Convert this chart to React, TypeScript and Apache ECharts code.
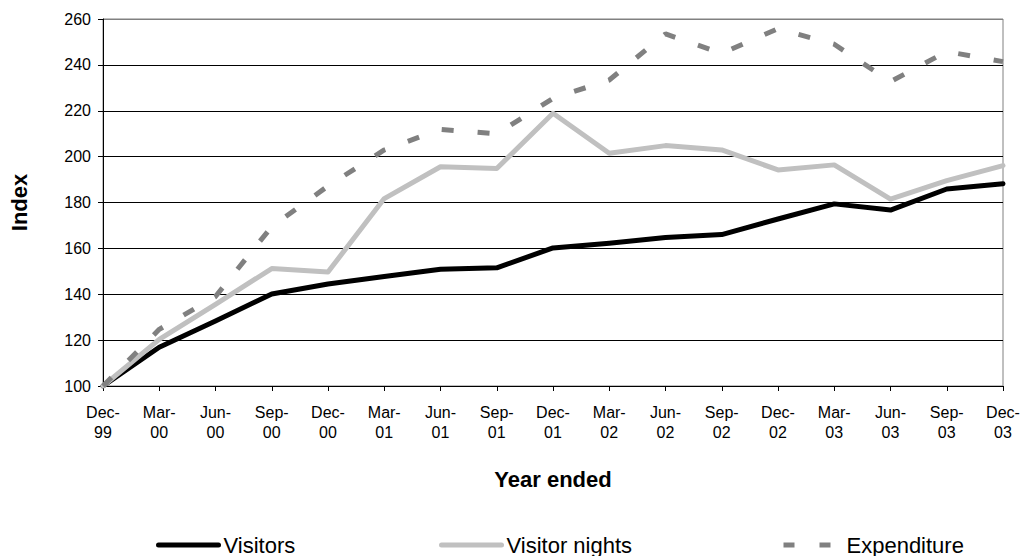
import React, { useEffect, useRef } from "react";
import * as echarts from "echarts";

const categories = [
  "Dec-\n99", "Mar-\n00", "Jun-\n00", "Sep-\n00", "Dec-\n00",
  "Mar-\n01", "Jun-\n01", "Sep-\n01", "Dec-\n01",
  "Mar-\n02", "Jun-\n02", "Sep-\n02", "Dec-\n02",
  "Mar-\n03", "Jun-\n03", "Sep-\n03", "Dec-\n03",
];

const visitors = [100, 116.9, 128.3, 140.1, 144.5, 147.7, 150.9, 151.5, 160.2, 162.2, 164.7, 166.0, 172.8, 179.4, 176.7, 185.9, 188.2];
const visitorNights = [100, 120.3, 135.6, 151.2, 149.7, 181.7, 195.6, 194.8, 218.9, 201.5, 204.8, 202.9, 194.2, 196.4, 181.5, 189.5, 196.1];
const expenditure = [100, 124.7, 139.0, 169.5, 187.2, 202.9, 211.9, 209.9, 225.4, 233.4, 253.5, 245.0, 255.8, 249.0, 232.7, 245.8, 241.4];

const FONT = "'Liberation Sans', Arial, sans-serif";

export default function App() {
  const ref = useRef<HTMLDivElement>(null);

  useEffect(() => {
    if (!ref.current) return;
    const chart = echarts.init(ref.current, undefined, { renderer: "svg" });
    const legendText = { fontFamily: FONT, fontSize: 22, color: "#000" };
    const hiddenSymbol = {
      color: "rgba(0,0,0,0)",
      borderColor: "rgba(0,0,0,0)",
      borderWidth: 0,
      opacity: 0,
    };
    chart.setOption({
      animation: false,
      backgroundColor: "#fff",
      textStyle: { fontFamily: FONT },
      grid: {
        left: 93,
        right: 23,
        top: 19,
        bottom: 170,
        show: true,
        borderColor: "#808080",
        borderWidth: 1,
      },
      legend: [
        {
          data: ["Visitors"],
          left: 151,
          top: 529,
          itemWidth: 60,
          itemHeight: 14,
          textStyle: legendText,
          itemStyle: hiddenSymbol,
          lineStyle: { width: 5, cap: "round", color: "#000" },
        },
        {
          data: ["Visitor nights"],
          left: 434,
          top: 529,
          itemWidth: 60,
          itemHeight: 14,
          textStyle: legendText,
          itemStyle: hiddenSymbol,
          lineStyle: { width: 5, cap: "round", color: "#C0C0C0" },
        },
        {
          data: ["Expenditure"],
          left: 776,
          top: 529,
          itemWidth: 58,
          itemHeight: 14,
          textStyle: legendText,
          itemStyle: hiddenSymbol,
          lineStyle: { width: 5, type: [11, 25], color: "#808080" },
        },
      ],
      xAxis: {
        type: "category",
        data: categories,
        boundaryGap: false,
        name: "Year ended",
        nameLocation: "middle",
        nameGap: 82,
        nameTextStyle: { fontFamily: FONT, fontSize: 22, fontWeight: "bold", color: "#000" },
        axisLine: { lineStyle: { color: "#000", width: 1 } },
        axisTick: { show: true, length: 5, inside: false, lineStyle: { color: "#000" } },
        axisLabel: {
          fontFamily: FONT,
          fontSize: 16,
          color: "#000",
          lineHeight: 20,
          margin: 16,
          interval: 0,
        },
        splitLine: { show: false },
      },
      yAxis: {
        type: "value",
        min: 100,
        max: 260,
        interval: 20,
        name: "Index",
        nameLocation: "middle",
        nameGap: 73,
        nameRotate: 90,
        nameTextStyle: { fontFamily: FONT, fontSize: 22, fontWeight: "bold", color: "#000" },
        axisLine: { show: true, lineStyle: { color: "#000", width: 1 } },
        axisTick: { show: true, length: 5, inside: false, lineStyle: { color: "#000" } },
        axisLabel: { fontFamily: FONT, fontSize: 16, color: "#000", margin: 12 },
        splitLine: {
          show: true,
          lineStyle: {
            color: ["#000", "#000", "#000", "#000", "#000", "#000", "#000", "#000", "#808080"],
            width: 1,
          },
        },
      },
      series: [
        {
          name: "Visitors",
          type: "line",
          data: visitors,
          symbol: "none",
          lineStyle: { color: "#000", width: 5, join: "round", cap: "round" },
          itemStyle: { color: "#000" },
        },
        {
          name: "Visitor nights",
          type: "line",
          data: visitorNights,
          symbol: "none",
          lineStyle: { color: "#C0C0C0", width: 5, join: "round", cap: "round" },
          itemStyle: { color: "#C0C0C0" },
        },
        {
          name: "Expenditure",
          type: "line",
          data: expenditure,
          symbol: "none",
          lineStyle: { color: "#808080", width: 5, type: [12, 24], cap: "butt" },
          itemStyle: { color: "#808080" },
        },
      ],
    });
    return () => chart.dispose();
  }, []);

  return (
    <div
      ref={ref}
      style={{ position: "fixed", left: 0, top: 0, width: 1026, height: 556, background: "#fff" }}
    />
  );
}
